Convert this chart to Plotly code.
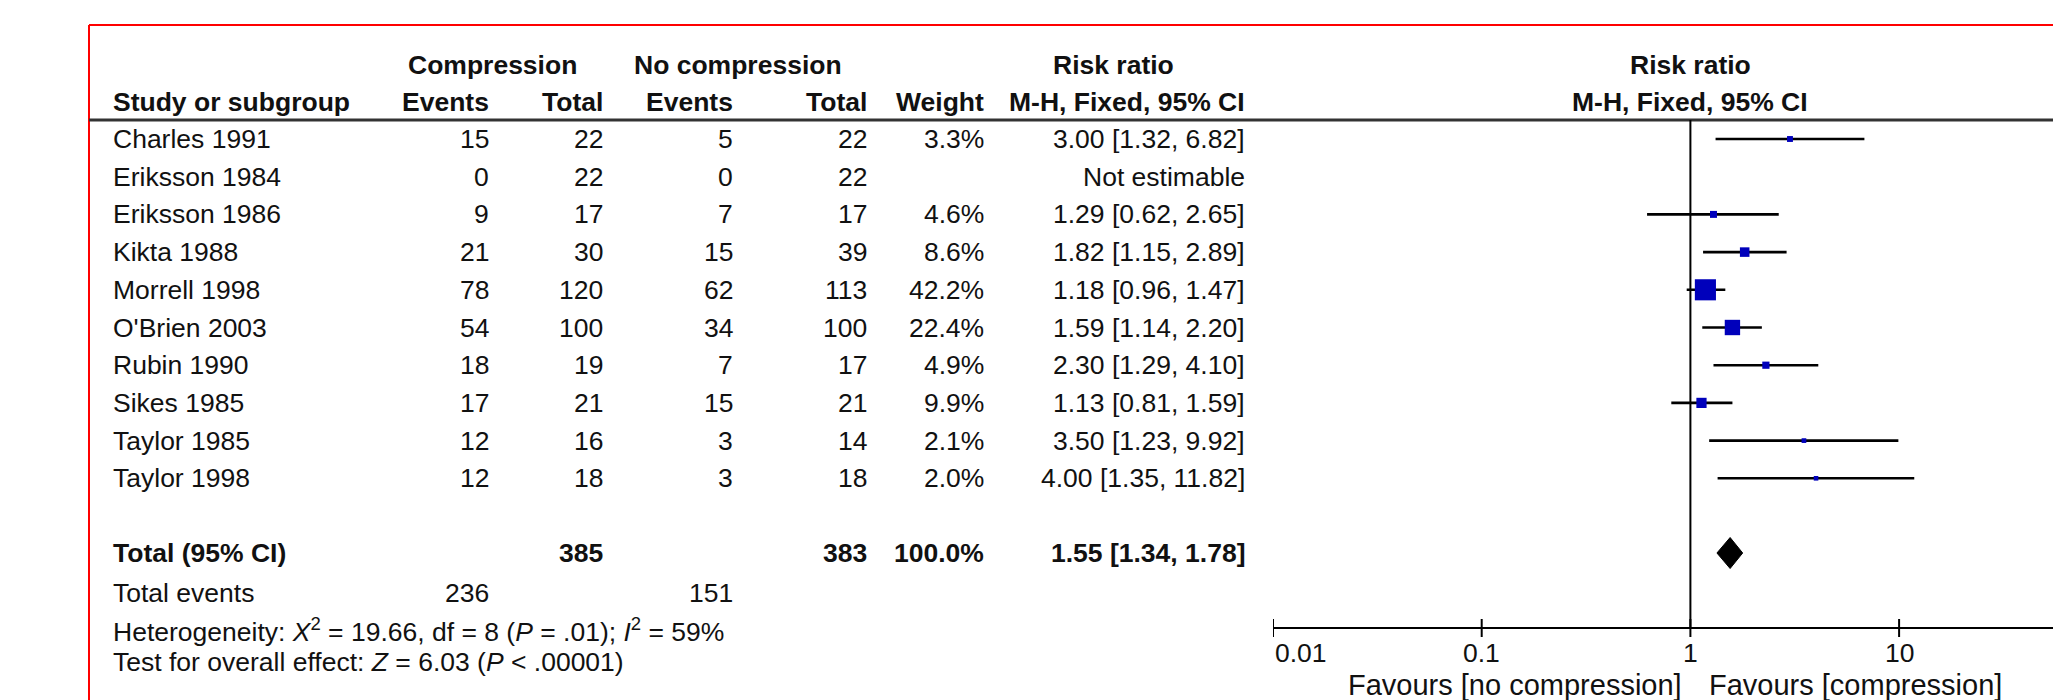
import math
import plotly.graph_objects as go

# ---------------- data ----------------
studies = ["Charles 1991", "Eriksson 1984", "Eriksson 1986", "Kikta 1988", "Morrell 1998",
           "O'Brien 2003", "Rubin 1990", "Sikes 1985", "Taylor 1985", "Taylor 1998"]
comp_events = [15, 0, 9, 21, 78, 54, 18, 17, 12, 12]
comp_total = [22, 22, 17, 30, 120, 100, 19, 21, 16, 18]
nocomp_events = [5, 0, 7, 15, 62, 34, 7, 15, 3, 3]
nocomp_total = [22, 22, 17, 39, 113, 100, 17, 21, 14, 18]
weight_pct = [3.3, None, 4.6, 8.6, 42.2, 22.4, 4.9, 9.9, 2.1, 2.0]
rr = [3.00, None, 1.29, 1.82, 1.18, 1.59, 2.30, 1.13, 3.50, 4.00]
ci_low = [1.32, None, 0.62, 1.15, 0.96, 1.14, 1.29, 0.81, 1.23, 1.35]
ci_high = [6.82, None, 2.65, 2.89, 1.47, 2.20, 4.10, 1.59, 9.92, 11.82]

total_label = "Total (95% CI)"
total_comp_n = 385
total_nocomp_n = 383
total_weight = 100.0
total_rr = 1.55
total_low = 1.34
total_high = 1.78
total_comp_events = 236
total_nocomp_events = 151
het_chi2 = 19.66
het_df = 8
het_p = ".01"
het_i2 = 59
overall_z = 6.03
overall_p = ".00001"

tick_values = [0.01, 0.1, 1, 10]
tick_labels = ["0.01", "0.1", "1", "10"]
favours_left = "Favours [no compression]"
favours_right = "Favours [compression]"

# ---------------- layout constants ----------------
W, H = 2053, 700
FONT = "Liberation Sans, Arial, sans-serif"
FS = 26.5
FS_FAV = 29
TXT = "#111111"
BLUE = "#0000bb"
ROW0, ROWH = 139, 37.7
row_y = [ROW0 + ROWH * i for i in range(len(studies))]
Y_TOTAL = 553
Y_TEV, Y_HET, Y_TEST = 593, 630, 662
Y_H1, Y_H2, Y_HLINE = 65, 102, 120
Y_AXIS = 628
Y_TICKLAB, Y_FAV = 653, 685
PLOT_LEFT = 1273
DECADE = 208.7

X_STUDY = 111
X_CE, X_CT, X_NE, X_NT, X_W, X_RR = 491, 605, 735, 869, 986, 1247
X_COMP_HDR, X_NOCOMP_HDR, X_RR_HDR = 492, 738, 1113

fig = go.Figure()

# CI lines
cx, cy = [], []
for y, lo, hi in zip(row_y, ci_low, ci_high):
    if lo is None:
        continue
    cx += [lo, hi, None]
    cy += [y, y, None]
fig.add_trace(go.Scatter(x=cx, y=cy, mode="lines", line=dict(color="black", width=2.6),
                         hoverinfo="skip", showlegend=False))

# weight squares
mx, my, ms = [], [], []
for y, est, w in zip(row_y, rr, weight_pct):
    if est is None:
        continue
    mx.append(est)
    my.append(y)
    ms.append(3.25 * math.sqrt(w))
fig.add_trace(go.Scatter(x=mx, y=my, mode="markers",
                         marker=dict(symbol="square", size=ms, color=BLUE, opacity=1,
                                     line=dict(width=0)),
                         showlegend=False))

# total diamond
dh = 15.5
fig.add_trace(go.Scatter(x=[total_low, total_rr, total_high, total_rr, total_low],
                         y=[Y_TOTAL, Y_TOTAL - dh, Y_TOTAL, Y_TOTAL + dh, Y_TOTAL],
                         mode="lines", fill="toself", fillcolor="black",
                         line=dict(color="black", width=1), showlegend=False))

shapes = []
# red frame
shapes.append(dict(type="line", xref="paper", yref="y", x0=89 / W, x1=1, y0=25, y1=25,
                   line=dict(color="#ff0000", width=2)))
shapes.append(dict(type="line", xref="paper", yref="y", x0=89 / W, x1=89 / W, y0=25, y1=H,
                   line=dict(color="#ff0000", width=2)))
# header rule
shapes.append(dict(type="line", xref="paper", yref="y", x0=89 / W, x1=1, y0=Y_HLINE, y1=Y_HLINE,
                   line=dict(color="#333333", width=3)))
# line of no effect
shapes.append(dict(type="line", xref="x", yref="y", x0=1, x1=1, y0=Y_HLINE, y1=Y_AXIS,
                   line=dict(color="black", width=2)))
# tick marks crossing the axis
for tv in tick_values:
    shapes.append(dict(type="line", xref="x", yref="y", x0=tv, x1=tv, y0=Y_AXIS - 9, y1=Y_AXIS + 9,
                       line=dict(color="black", width=2)))

ann = []


def text(t, xpos, ypx, anchor="left", bold=False, xref="paper", size=FS):
    if bold:
        t = "<b>" + t + "</b>"
    # paper refs are given in pixels; data refs on the log axis need log10
    xv = xpos / W if xref == "paper" else math.log10(xpos)
    ann.append(dict(text=t, x=xv, y=ypx, xref=xref, yref="y",
                    xanchor=anchor, yanchor="middle", showarrow=False,
                    font=dict(family=FONT, size=size, color=TXT)))


# headers
text("Compression", X_COMP_HDR, Y_H1, "center", True)
text("No compression", X_NOCOMP_HDR, Y_H1, "center", True)
text("Risk ratio", X_RR_HDR, Y_H1, "center", True)
text("Risk ratio", 1, Y_H1, "center", True, xref="x")
text("Study or subgroup", X_STUDY, Y_H2, "left", True)
text("Events", X_CE, Y_H2, "right", True)
text("Total", X_CT, Y_H2, "right", True)
text("Events", X_NE, Y_H2, "right", True)
text("Total", X_NT, Y_H2, "right", True)
text("Weight", X_W, Y_H2, "right", True)
text("M-H, Fixed, 95% CI", X_RR, Y_H2, "right", True)
text("M-H, Fixed, 95% CI", 1, Y_H2, "center", True, xref="x")

# study rows
for i, s in enumerate(studies):
    y = row_y[i]
    text(s, X_STUDY, y)
    text(str(comp_events[i]), X_CE, y, "right")
    text(str(comp_total[i]), X_CT, y, "right")
    text(str(nocomp_events[i]), X_NE, y, "right")
    text(str(nocomp_total[i]), X_NT, y, "right")
    if weight_pct[i] is not None:
        text(f"{weight_pct[i]:.1f}%", X_W, y, "right")
        text(f"{rr[i]:.2f} [{ci_low[i]:.2f}, {ci_high[i]:.2f}]", X_RR, y, "right")
    else:
        text("Not estimable", X_RR, y, "right")

# total row
text(total_label, X_STUDY, Y_TOTAL, "left", True)
text(str(total_comp_n), X_CT, Y_TOTAL, "right", True)
text(str(total_nocomp_n), X_NT, Y_TOTAL, "right", True)
text(f"{total_weight:.1f}%", X_W, Y_TOTAL, "right", True)
text(f"{total_rr:.2f} [{total_low:.2f}, {total_high:.2f}]", X_RR, Y_TOTAL, "right", True)

text("Total events", X_STUDY, Y_TEV)
text(str(total_comp_events), X_CE, Y_TEV, "right")
text(str(total_nocomp_events), X_NE, Y_TEV, "right")
text(f"Heterogeneity: <i>X</i><sup>2</sup> = {het_chi2:.2f}, df = {het_df} (<i>P</i> = {het_p}); "
     f"<i>I</i><sup>2</sup> = {het_i2}%", X_STUDY, Y_HET)
text(f"Test for overall effect: <i>Z</i> = {overall_z:.2f} (<i>P</i> &lt; {overall_p})", X_STUDY, Y_TEST)

# tick labels
for tv, tl in zip(tick_values, tick_labels):
    text(tl, tv, Y_TICKLAB, "left" if tv == tick_values[0] else "center", xref="x")

text(favours_left, 0.936, Y_FAV, "right", xref="x", size=FS_FAV)
text(favours_right, 1.206, Y_FAV, "left", xref="x", size=FS_FAV)

fig.update_layout(
    width=W, height=H,
    margin=dict(l=0, r=0, t=0, b=0),
    paper_bgcolor="white", plot_bgcolor="white",
    showlegend=False,
    shapes=shapes, annotations=ann,
    xaxis=dict(type="log", domain=[PLOT_LEFT / W, 1],
               range=[-2, -2 + (W - PLOT_LEFT) / DECADE],
               anchor="free", position=(H - Y_AXIS) / H,
               showline=True, linecolor="black", linewidth=2,
               showgrid=False, zeroline=False, ticks="", showticklabels=False),
    yaxis=dict(range=[H, 0], domain=[0, 1], visible=False, showgrid=False, zeroline=False),
)

fig.write_html("out.html", config={"displayModeBar": False},
               post_script="document.body.style.margin='0';")
